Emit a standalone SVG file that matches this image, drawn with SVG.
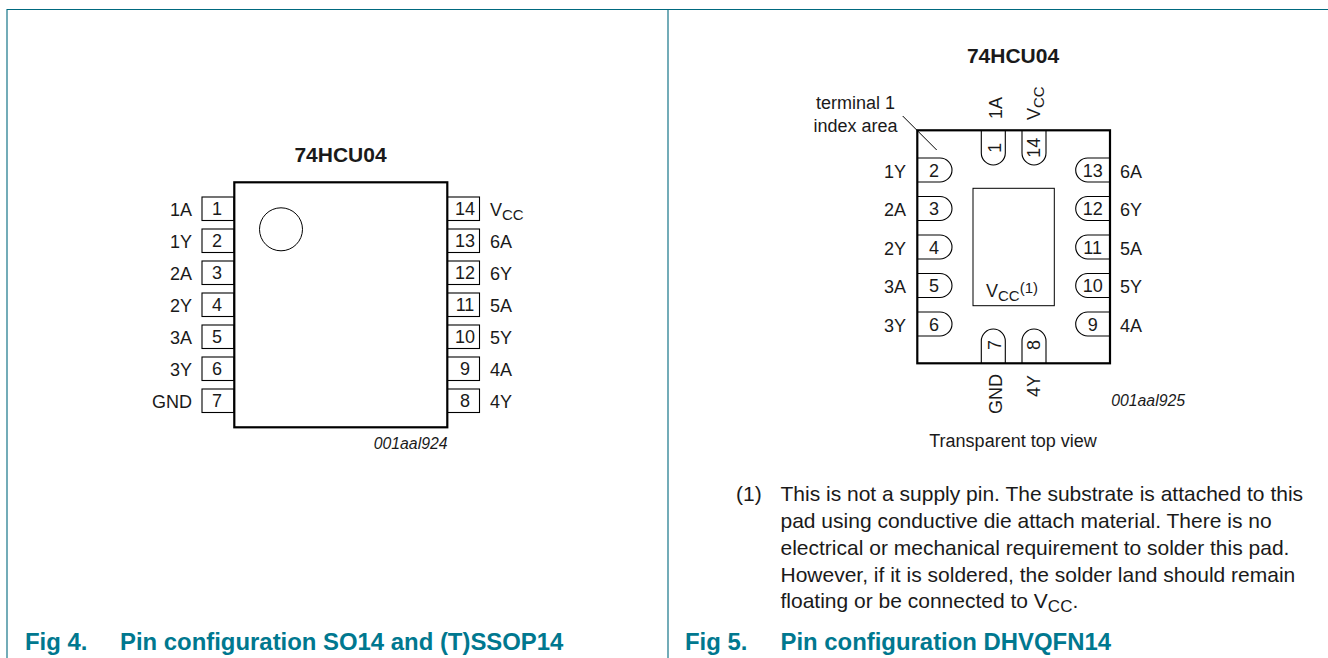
<svg xmlns="http://www.w3.org/2000/svg" width="1328" height="658" viewBox="0 0 1328 658">
<style>
text{font-family:"Liberation Sans",Arial,sans-serif;font-size:18px;fill:#1a1a1a}
.t{font-size:21px;font-weight:bold}
.c{text-anchor:middle}
.r{text-anchor:end}
.i{font-style:italic;font-size:15.8px}
.n{font-size:21px}
.f{font-size:23.9px;font-weight:bold;fill:#00788f}
.b{fill:none;stroke:#00697f;stroke-width:1.1}
.chip{fill:#fff;stroke:#000;stroke-width:2.2}
.pin{fill:#fff;stroke:#000;stroke-width:1.1}
.s{font-size:15px}
</style>
<g id="frame" class="b"><path d="M7 658V9.500H1328M668 9.500V658"/></g>
<g id="connectors"><path d="M902.700 116L936.700 150" fill="none" stroke="#000" stroke-width="1"/></g>
<g id="so14">
<text class="t c" x="340.500" y="161.500">74HCU04</text>
<g id="so14-pins">
<rect class="pin" x="202" y="197" width="32" height="23.500"/><rect class="pin" x="202" y="229" width="32" height="23.500"/><rect class="pin" x="202" y="261" width="32" height="23.500"/><rect class="pin" x="202" y="293" width="32" height="23.500"/><rect class="pin" x="202" y="325" width="32" height="23.500"/><rect class="pin" x="202" y="357" width="32" height="23.500"/><rect class="pin" x="202" y="389" width="32" height="23.500"/>
<rect class="pin" x="447" y="197" width="32.500" height="23.500"/><rect class="pin" x="447" y="229" width="32.500" height="23.500"/><rect class="pin" x="447" y="261" width="32.500" height="23.500"/><rect class="pin" x="447" y="293" width="32.500" height="23.500"/><rect class="pin" x="447" y="325" width="32.500" height="23.500"/><rect class="pin" x="447" y="357" width="32.500" height="23.500"/><rect class="pin" x="447" y="389" width="32.500" height="23.500"/>
</g>
<rect class="chip" x="234.300" y="182.300" width="213" height="245"/>
<circle cx="281" cy="229.300" r="21.500" fill="none" stroke="#000" stroke-width="1"/>
<text class="c" x="217" y="215">1</text><text class="c" x="217" y="247">2</text><text class="c" x="217" y="279">3</text><text class="c" x="217" y="311">4</text><text class="c" x="217" y="343">5</text><text class="c" x="217" y="375">6</text><text class="c" x="217" y="407">7</text>
<text class="c" x="465" y="215">14</text><text class="c" x="465" y="247">13</text><text class="c" x="465" y="279">12</text><text class="c" x="465" y="311">11</text><text class="c" x="465" y="343">10</text><text class="c" x="465" y="375">9</text><text class="c" x="465" y="407">8</text>
<text class="r" x="192" y="215.500">1A</text><text class="r" x="192" y="247.500">1Y</text><text class="r" x="192" y="279.500">2A</text><text class="r" x="192" y="311.500">2Y</text><text class="r" x="192" y="343.500">3A</text><text class="r" x="192" y="375.500">3Y</text><text class="r" x="192" y="407.500">GND</text>
<text x="490" y="215.500">V<tspan class="s" dy="4">CC</tspan></text><text x="490" y="247.500">6A</text><text x="490" y="279.500">6Y</text><text x="490" y="311.500">5A</text><text x="490" y="343.500">5Y</text><text x="490" y="375.500">4A</text><text x="490" y="407.500">4Y</text>
<text class="i r" x="447.500" y="449">001aal924</text>
</g>
<g id="dhvqfn14">
<text class="t c" x="1013" y="62.500">74HCU04</text>
<text class="c" x="855.500" y="109">terminal 1</text><text class="c" x="855.500" y="131.500">index area</text>
<g id="dh-pins">
<path class="pin" d="M918 158H940A12 12 0 0 1 940 182H918"/><path class="pin" d="M918 196.500H940A12 12 0 0 1 940 220.500H918"/><path class="pin" d="M918 235H940A12 12 0 0 1 940 259H918"/><path class="pin" d="M918 273.500H940A12 12 0 0 1 940 297.500H918"/><path class="pin" d="M918 312H940A12 12 0 0 1 940 336H918"/>
<path class="pin" d="M1110 158H1087.700A12 12 0 0 0 1087.700 182H1110"/><path class="pin" d="M1110 196.500H1087.700A12 12 0 0 0 1087.700 220.500H1110"/><path class="pin" d="M1110 235H1087.700A12 12 0 0 0 1087.700 259H1110"/><path class="pin" d="M1110 273.500H1087.700A12 12 0 0 0 1087.700 297.500H1110"/><path class="pin" d="M1110 312H1087.700A12 12 0 0 0 1087.700 336H1110"/>
<path class="pin" d="M981.300 131V153A12 12 0 0 0 1005.300 153V131"/><path class="pin" d="M1022 131V153A12 12 0 0 0 1046 153V131"/>
<path class="pin" d="M981.300 363V341A12 12 0 0 1 1005.300 341V363"/><path class="pin" d="M1022 363V341A12 12 0 0 1 1046 341V363"/>
</g>
<rect x="917.300" y="130.300" width="192.700" height="233" fill="none" stroke="#000" stroke-width="2.200"/>
<rect x="973" y="188.300" width="81.300" height="117.400" fill="none" stroke="#000" stroke-width="1"/>
<text class="c" x="934" y="176.700">2</text><text class="c" x="934" y="215.200">3</text><text class="c" x="934" y="253.700">4</text><text class="c" x="934" y="292.200">5</text><text class="c" x="934" y="330.700">6</text>
<text class="c" x="1092.700" y="176.700">13</text><text class="c" x="1092.700" y="215.200">12</text><text class="c" x="1092.700" y="253.700">11</text><text class="c" x="1092.700" y="292.200">10</text><text class="c" x="1092.700" y="330.700">9</text>
<text class="r" x="906" y="177.500">1Y</text><text class="r" x="906" y="216">2A</text><text class="r" x="906" y="254.500">2Y</text><text class="r" x="906" y="293">3A</text><text class="r" x="906" y="331.500">3Y</text>
<text x="1120" y="177.500">6A</text><text x="1120" y="216">6Y</text><text x="1120" y="254.500">5A</text><text x="1120" y="293">5Y</text><text x="1120" y="331.500">4A</text>
<text class="c" transform="translate(1001 147.700) rotate(-90)">1</text><text class="c" transform="translate(1040 147.700) rotate(-90)">14</text>
<text class="c" transform="translate(1001 345) rotate(-90)">7</text><text class="c" transform="translate(1040 345) rotate(-90)">8</text>
<text transform="translate(1001.500 119) rotate(-90)">1A</text><text transform="translate(1040 120) rotate(-90)">V<tspan class="s" dy="4">CC</tspan></text>
<text transform="translate(1001.500 414) rotate(-90)">GND</text><text transform="translate(1040 397) rotate(-90)">4Y</text>
<text x="986" y="296.700">V<tspan class="s" dy="4">CC</tspan><tspan class="s" dy="-8">(1)</tspan></text>
<text class="i r" x="1185" y="405.500">001aal925</text>
<text class="c" x="1013" y="447">Transparent top view</text>
</g>
<g id="note">
<text class="n" x="736" y="501">(1)</text>
<text class="n" x="780.500" y="501">This is not a supply pin. The substrate is attached to this</text>
<text class="n" x="780.500" y="528">pad using conductive die attach material. There is no</text>
<text class="n" x="780.500" y="555">electrical or mechanical requirement to solder this pad.</text>
<text class="n" x="780.500" y="582">However, if it is soldered, the solder land should remain</text>
<text class="n" x="780.500" y="608">floating or be connected to V<tspan style="font-size:17px" dy="4">CC</tspan><tspan dy="-4">.</tspan></text>
</g>
<text class="f" x="25" y="650">Fig 4.</text><text class="f" x="120" y="650">Pin configuration SO14 and (T)SSOP14</text>
<text class="f" x="685" y="650">Fig 5.</text><text class="f" x="780.500" y="650">Pin configuration DHVQFN14</text>
</svg>
